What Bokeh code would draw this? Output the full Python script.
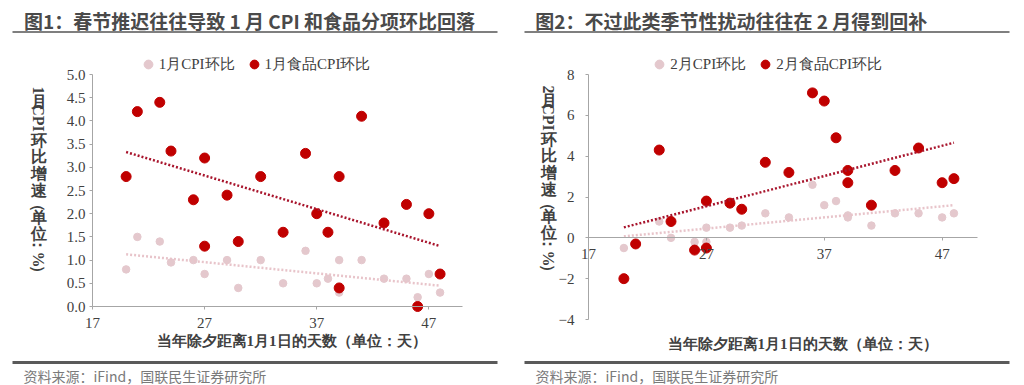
import math
import numpy as np
from bokeh.plotting import figure
from bokeh.models import (Label, BoxAnnotation, Legend, LegendItem, FixedTicker,
                          Range1d, LinearAxis, NumeralTickFormatter, BasicTickFormatter)
from bokeh.layouts import row
from bokeh.embed import file_html
from bokeh.resources import INLINE

# ---------------- data ----------------
jan_cpi_days = [20, 21, 23, 24, 26, 27, 29, 30, 32, 34, 36, 37, 38, 39, 39, 41, 43, 45, 46, 47, 48]
jan_cpi = [0.8, 1.5, 1.4, 0.95, 1.0, 0.7, 1.0, 0.4, 1.0, 0.5, 1.2, 0.5, 0.6, 1.0, 0.3, 1.0, 0.6, 0.6, 0.2, 0.7, 0.3]
jan_food_days = [20, 21, 23, 24, 26, 27, 27, 29, 30, 32, 34, 36, 37, 38, 39, 39, 41, 43, 45, 46, 47, 48]
jan_food = [2.8, 4.2, 4.4, 3.35, 2.3, 3.2, 1.3, 2.4, 1.4, 2.8, 1.6, 3.3, 2.0, 1.6, 2.8, 0.4, 4.1, 1.8, 2.2, 0.0, 2.0, 0.7]

feb_cpi_days = [20, 23, 24, 26, 27, 27, 29, 30, 32, 34, 36, 37, 38, 39, 39, 41, 43, 45, 47, 48]
feb_cpi = [-0.5, 0.8, 0.0, -0.2, -0.2, 0.5, 0.5, 0.6, 1.2, 1.0, 2.6, 1.6, 1.8, 1.1, 1.0, 0.6, 1.2, 1.2, 1.0, 1.2]
feb_food_days = [20, 21, 23, 24, 26, 27, 27, 29, 30, 32, 34, 36, 37, 38, 39, 39, 41, 43, 45, 47, 48]
feb_food = [-2.0, -0.3, 4.3, 0.8, -0.6, 1.8, -0.5, 1.7, 1.4, 3.7, 3.2, 7.1, 6.7, 4.9, 3.3, 2.7, 1.6, 3.3, 4.4, 2.7, 2.9]

x_ticks = [17, 27, 37, 47]
x_bounds = (17, 50)
jan_y_ticks = [0, 0.5, 1, 1.5, 2, 2.5, 3, 3.5, 4, 4.5, 5]
jan_y_bounds = (0, 5)
feb_y_ticks = [-4, -2, 0, 2, 4, 6, 8]
feb_y_bounds = (-4, 8)

title1 = "图1：春节推迟往往导致 1 月 CPI 和食品分项环比回落"
title2 = "图2：不过此类季节性扰动往往在 2 月得到回补"
legend1 = ["1月CPI环比", "1月食品CPI环比"]
legend2 = ["2月CPI环比", "2月食品CPI环比"]
xlabel = "当年除夕距离1月1日的天数（单位：天）"
source_txt = "资料来源：iFind，国联民生证券研究所"

# ---------------- style ----------------
DARK = "#C00000"
LIGHT = "#E4C8CD"
DARK_TREND = "#A8142C"
LIGHT_TREND = "#E8C4CA"
AXIS = "#A6A6A6"
TXT = "#404040"
SERIF = "Liberation Serif"
SANS = "Noto Sans CJK SC"
W, H = 512, 385


def trend(xs, ys):
    k, b = np.polyfit(xs, ys, 1)
    x0, x1 = min(xs), max(xs)
    return [x0, x1], [k * x0 + b, k * x1 + b]


def canvas_label(p, x, y, text, size, font=SANS, style="normal", color=TXT,
                 align="left", angle=0.0):
    p.add_layout(Label(x=x, y=y, x_units="canvas", y_units="canvas", text=text,
                       text_font=font, text_font_size=size, text_font_style=style,
                       text_color=color, text_align=align, text_baseline="middle",
                       angle=angle))


def rule(p, x0, x1, y0, y1, color):
    p.add_layout(BoxAnnotation(left=x0, right=x1, top=y0, bottom=y1,
                               left_units="canvas", right_units="canvas",
                               top_units="canvas", bottom_units="canvas",
                               fill_color=color, fill_alpha=1.0,
                               line_alpha=0.0, level="overlay"))


def style_axis(ax):
    ax.axis_line_color = AXIS
    ax.axis_line_width = 1
    ax.major_tick_line_color = AXIS
    ax.major_tick_in = 0
    ax.major_tick_out = 3
    ax.minor_tick_line_color = None
    ax.major_label_text_font = SERIF
    ax.major_label_text_font_size = "15px"
    ax.major_label_text_color = TXT


def make_panel(area, xb, yb, yticks, yfmt, x_axis_at, y_std,
               light_x, light_y, dark_x, dark_y, leg_labels, leg_x, leg_bottom):
    # area = plot-area edges on the canvas: left, right, top, bottom (pixels)
    fl, fr, ft, fb = area
    kx = (fr - fl) / (xb[1] - xb[0])
    ky = (fb - ft) / (yb[1] - yb[0])
    xr = Range1d(xb[0] - fl / kx, xb[1] + (W - fr) / kx)
    yr = Range1d(yb[0] - (H - fb) / ky, yb[1] + ft / ky)
    p = figure(width=W, height=H, output_backend="svg", toolbar_location=None,
               x_range=xr, y_range=yr, x_axis_location=None, y_axis_location=None,
               min_border=0, background_fill_color="white",
               border_fill_color="white", outline_line_color=None)
    p.grid.visible = False

    xa = LinearAxis(fixed_location=x_axis_at, bounds=xb,
                    ticker=FixedTicker(ticks=x_ticks), major_label_standoff=8)
    ya = LinearAxis(fixed_location=xb[0], bounds=yb,
                    ticker=FixedTicker(ticks=yticks), formatter=yfmt,
                    major_label_standoff=y_std)
    style_axis(xa)
    style_axis(ya)
    p.add_layout(xa, "below")
    p.add_layout(ya, "left")

    r1 = p.scatter(light_x, light_y, size=7.5, color=LIGHT)
    tx, ty = trend(light_x, light_y)
    p.line(tx, ty, line_color=LIGHT_TREND, line_width=2.5, line_dash="2 2")
    r2 = p.scatter(dark_x, dark_y, size=10, color=DARK)
    tx, ty = trend(dark_x, dark_y)
    p.line(tx, ty, line_color=DARK_TREND, line_width=2.5, line_dash="2 2")

    legend = Legend(items=[LegendItem(label=leg_labels[0], renderers=[r1]),
                           LegendItem(label=leg_labels[1], renderers=[r2])],
                    orientation="horizontal", location=(leg_x, H - leg_bottom),
                    padding=0, margin=0, spacing=8, glyph_width=22, glyph_height=22,
                    label_standoff=-5, border_line_alpha=0, background_fill_alpha=0,
                    label_text_font=SERIF, label_text_font_size="15px",
                    label_text_color=TXT)
    p.add_layout(legend, "center")
    return p


# canvas coordinates equal page coordinates (right panel: page x - 512)
p1 = make_panel((92, 462, 74, 306), x_bounds, jan_y_bounds, jan_y_ticks,
                NumeralTickFormatter(format="0.0"), jan_y_bounds[0], 4,
                jan_cpi_days, jan_cpi, jan_food_days, jan_food, legend1, 136.7, 75)
p2 = make_panel((76, 465, 74, 319), x_bounds, feb_y_bounds, feb_y_ticks,
                BasicTickFormatter(), 0, 11,
                feb_cpi_days, feb_cpi, feb_food_days, feb_food, legend2, 136.3, 75)


def decorate(p, title, tx, rule_x0, rule_x1, ylab_digit, ycx, ydy, xl_cx, xl_cy, src_x):
    canvas_label(p, tx, 20, title, "19px", style="bold", color="#4A4A4A")
    rule(p, rule_x0, rule_x1, 30.5, 32.5, "#7F7F7F")
    rule(p, rule_x0, rule_x1, 360.5, 363.5, "#5A5A5A")
    canvas_label(p, src_x, 375, source_txt, "14px", color="#7A7A7A")
    canvas_label(p, xl_cx, xl_cy, xlabel, "15px", font=SERIF, style="bold",
                 align="center")
    pieces = [(ylab_digit, 90, True), ("月", 100.5, False), ("CPI", 117.5, True),
              ("环", 139.5, False), ("比", 155.5, False), ("增", 173, False),
              ("速", 189.5, False), ("（", 203, True), ("单", 217, False),
              ("位", 232.5, False), ("：", 244, True), ("%", 259, True), ("）", 272, True)]
    for txt, cy, rot in pieces:
        canvas_label(p, ycx, cy + ydy, txt, "16px", font=SERIF, style="bold",
                     align="center", angle=(-math.pi / 2 if rot else 0.0))


decorate(p1, title1, 23.5, 12, 497, "1", 38, 0, 291, 340, 23)
decorate(p2, title2, 22.7, 12, 497, "2", 36, -1, 290, 343, 23)

layout = row(p1, p2, spacing=0)
open("out.html", "w").write(file_html(layout, INLINE))
